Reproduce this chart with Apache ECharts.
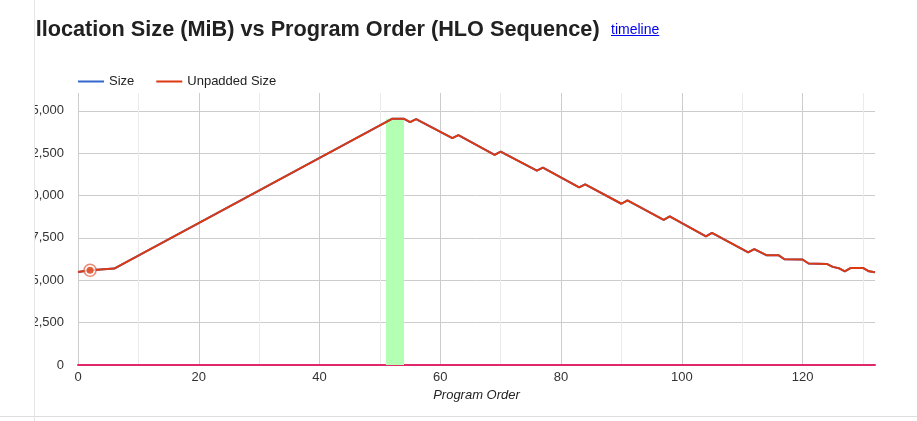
<!DOCTYPE html>
<html>
<head>
<meta charset="utf-8">
<script src="https://cdn.jsdelivr.net/npm/echarts@6/dist/echarts.min.js"></script>
<style>
	html, body { margin: 0; padding: 0; background: #fff; }
	body { width: 917px; height: 421px; overflow: hidden; position: relative; font-family: "Liberation Sans", Arial, sans-serif; }
	#panel { position: absolute; left: 34px; top: 0; width: 883px; height: 421px; overflow: hidden; border-left: 1px solid #e6e6e6; box-sizing: border-box; }
	#title { position: absolute; top: 16px; white-space: nowrap; font-size: 21.7px; font-weight: bold; color: #212121; }
	#link { position: absolute; top: 21px; font-size: 14px; color: #0000ee; text-decoration: underline; white-space: nowrap; }
	#chart { position: absolute; left: -1px; top: 0; width: 883px; height: 421px; }
	#bottomLine { position: absolute; left: 0; top: 416px; width: 917px; border-top: 1px solid #dedede; }
</style>
</head>
<body>
<div id="panel">
	<div id="chart"></div>
	<span id="title">Allocation Size (MiB) vs Program Order (HLO Sequence)</span>
	<a id="link">timeline</a>
</div>
<div id="bottomLine"></div>
<script>
// program order (x) of each vertex of the curve
var orderX = [0, 2, 6, 52, 54, 55, 56, 62, 63, 69, 70, 76, 77, 83, 84, 90, 91, 97, 98, 104, 105, 111, 112, 114, 116, 117, 120, 121, 124, 125, 126, 127, 128, 130, 131, 132];
// allocation size in MiB
var sizeY = [5490, 5590, 5690, 14530, 14530, 14330, 14510, 13385, 13560, 12400, 12590, 11470, 11645, 10485, 10660, 9515, 9715, 8570, 8770, 7590, 7800, 6640, 6835, 6480, 6480, 6240, 6225, 5990, 5965, 5790, 5710, 5530, 5730, 5730, 5530, 5475];
var unpaddedY = [5490, 5590, 5690, 14530, 14530, 14330, 14510, 13385, 13560, 12400, 12590, 11470, 11645, 10485, 10660, 9515, 9715, 8570, 8770, 7590, 7800, 6640, 6835, 6480, 6480, 6240, 6225, 5990, 5965, 5790, 5710, 5530, 5730, 5730, 5530, 5475];
// highlighted range of program order (green band) and its height
var highlightRange = [51, 54];
var highlightTop = 14530;
var selectedIndex = 1;

var colors = ['#3366cc', '#dc3912'];

function pairs(xs, ys) {
	var out = [];
	for (var i = 0; i < xs.length; i++) {
		out.push([xs[i], ys[i]]);
	}
	return out;
}

// title + link placed so the title ends at x=600 of the page
var title = document.getElementById("title");
title.style.left = (600 - 35 - title.offsetWidth) + "px";
document.getElementById("link").style.left = (611 - 35) + "px";

var myChart = echarts.init(document.getElementById("chart"));
var option = {
	animation: false,
	color: colors,
	legend: {
		left: 39,
		top: 70,
		itemWidth: 26,
		itemHeight: 2,
		itemGap: 22,
		icon: 'rect',
		textStyle: { fontSize: 13, color: '#222', fontFamily: 'Liberation Sans' },
		data: ['Size', 'Unpadded Size']
	},
	grid: {
		left: 44,
		right: 42,
		top: 93,
		bottom: 56,
		containLabel: false,
		outerBoundsMode: 'none'
	},
	xAxis: {
		type: 'value',
		min: 0,
		max: 132,
		interval: 20,
		name: 'Program Order',
		nameLocation: 'middle',
		nameGap: 20,
		nameTextStyle: { fontStyle: 'italic', fontSize: 13, color: '#222', fontFamily: 'Liberation Sans' },
		axisLine: { show: true, onZero: true, lineStyle: { color: '#e0286a', width: 2 } },
		axisTick: { show: false },
		axisLabel: { margin: 6, fontSize: 13, color: '#333', fontFamily: 'Liberation Sans', showMaxLabel: false },
		splitLine: { show: true, showMaxLine: false, lineStyle: { color: '#cccccc' } },
		minorTick: { show: false, splitNumber: 2 },
		minorSplitLine: { show: true, lineStyle: { color: '#ebebeb' } }
	},
	yAxis: {
		type: 'value',
		min: 0,
		max: 16050,
		interval: 2500,
		axisLine: { show: false },
		axisTick: { show: false },
		axisLabel: {
			margin: 14,
			fontSize: 13,
			color: '#333',
			fontFamily: 'Liberation Sans',
			showMaxLabel: false,
			formatter: function (v) { return v.toLocaleString('en-US'); }
		},
		splitLine: { show: true, showMaxLine: false, lineStyle: { color: '#cccccc' } }
	},
	series: [
		{
			name: 'Size',
			type: 'line',
			showSymbol: false,
			lineStyle: { width: 2, color: colors[0] },
			data: pairs(orderX, sizeY),
			z: 2,
			markArea: {
				silent: true,
				itemStyle: { color: '#b3ffb3', opacity: 1 },
				data: [[{ xAxis: highlightRange[0], yAxis: 0 }, { xAxis: highlightRange[1], yAxis: highlightTop }]]
			}
		},
		{
			name: 'Unpadded Size',
			type: 'line',
			showSymbol: false,
			lineStyle: { width: 2, color: colors[1] },
			data: pairs(orderX, unpaddedY),
			z: 3
		},
		{
			// focused point ring
			type: 'scatter',
			symbolSize: 12,
			itemStyle: { color: 'rgba(255,255,255,0.9)', borderColor: 'rgba(220,57,18,0.75)', borderWidth: 1.5 },
			data: [[orderX[selectedIndex], unpaddedY[selectedIndex]]],
			z: 4
		},
		{
			type: 'scatter',
			symbolSize: 7,
			itemStyle: { color: colors[1] },
			data: [[orderX[selectedIndex], unpaddedY[selectedIndex]]],
			z: 5
		}
	]
};
myChart.setOption(option);
</script>
</body>
</html>
